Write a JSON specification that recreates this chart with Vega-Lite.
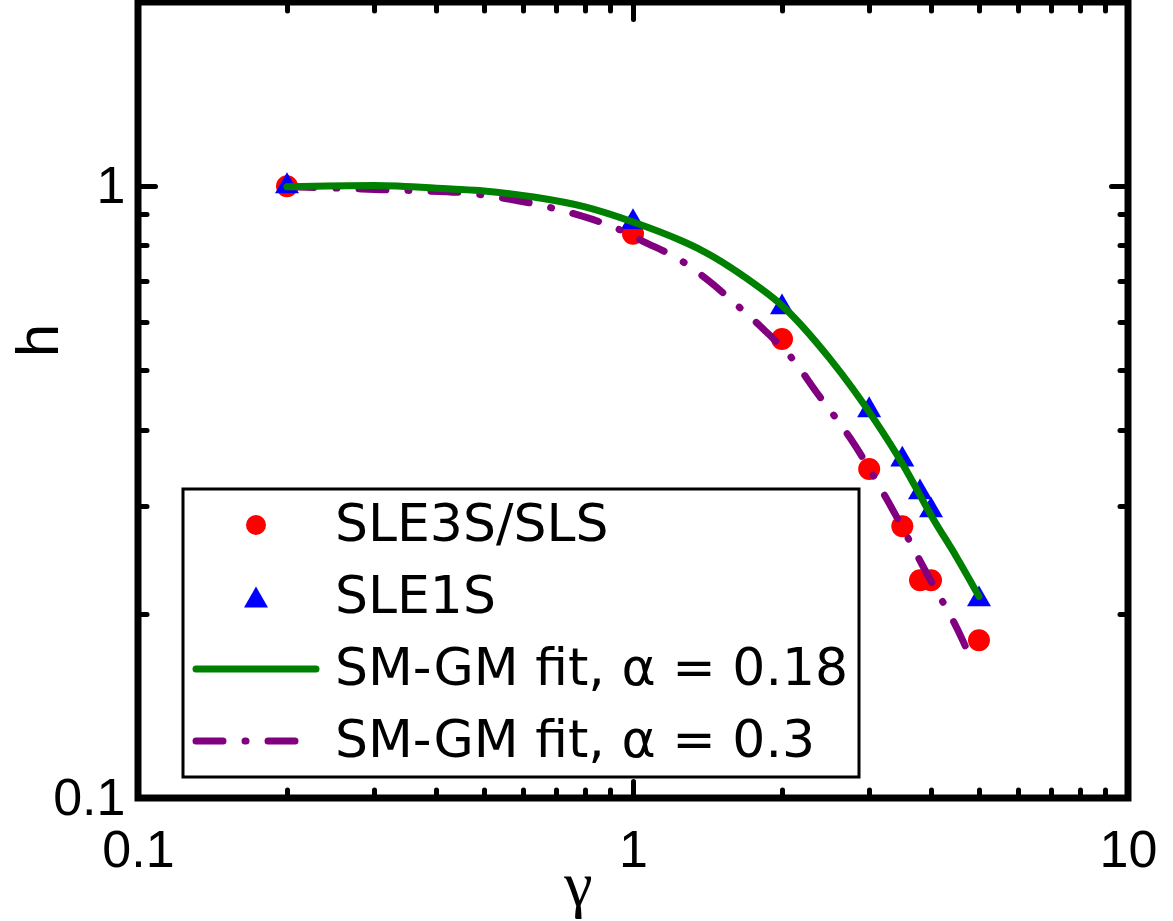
{
  "$schema": "https://vega.github.io/schema/vega-lite/v6.json",
  "width": 990,
  "height": 796,
  "autosize": {"type": "none"},
  "padding": {"left": 138, "top": 2, "right": 45, "bottom": 123},
  "background": "white",
  "config": {
    "view": {"stroke": "black", "strokeWidth": 7},
    "font": "Liberation Sans",
    "axis": {"grid": false, "domain": false}
  },
  "datasets": {
    "points": [
      {"series": "SLE3S/SLS", "gamma": 0.2, "h": 1.0},
      {"series": "SLE3S/SLS", "gamma": 1, "h": 0.836},
      {"series": "SLE3S/SLS", "gamma": 2, "h": 0.5625},
      {"series": "SLE3S/SLS", "gamma": 3, "h": 0.345},
      {"series": "SLE3S/SLS", "gamma": 3.5, "h": 0.278},
      {"series": "SLE3S/SLS", "gamma": 3.8, "h": 0.227},
      {"series": "SLE3S/SLS", "gamma": 4, "h": 0.227},
      {"series": "SLE3S/SLS", "gamma": 5, "h": 0.181},
      {"series": "SLE1S", "gamma": 0.2, "h": 1.013},
      {"series": "SLE1S", "gamma": 1, "h": 0.885},
      {"series": "SLE1S", "gamma": 2, "h": 0.642},
      {"series": "SLE1S", "gamma": 3, "h": 0.436},
      {"series": "SLE1S", "gamma": 3.5, "h": 0.362},
      {"series": "SLE1S", "gamma": 3.8, "h": 0.32},
      {"series": "SLE1S", "gamma": 4, "h": 0.299},
      {"series": "SLE1S", "gamma": 5, "h": 0.214}
    ],
    "fit018": [
      {"gamma": 0.2, "h": 0.998},
      {"gamma": 0.3, "h": 1.003},
      {"gamma": 0.43, "h": 0.989},
      {"gamma": 0.5, "h": 0.982},
      {"gamma": 0.63, "h": 0.96},
      {"gamma": 0.8, "h": 0.925},
      {"gamma": 1.0, "h": 0.874},
      {"gamma": 1.25, "h": 0.815},
      {"gamma": 1.37, "h": 0.787},
      {"gamma": 1.7, "h": 0.706},
      {"gamma": 2.0, "h": 0.638},
      {"gamma": 2.5, "h": 0.522},
      {"gamma": 3.1, "h": 0.411},
      {"gamma": 3.5, "h": 0.352},
      {"gamma": 4.05, "h": 0.285},
      {"gamma": 4.5, "h": 0.248},
      {"gamma": 5.0, "h": 0.2136}
    ],
    "fit03": [
      {"gamma": 0.2, "h": 0.998},
      {"gamma": 0.26, "h": 0.992},
      {"gamma": 0.31, "h": 0.987},
      {"gamma": 0.37, "h": 0.983},
      {"gamma": 0.47, "h": 0.973},
      {"gamma": 0.53, "h": 0.96},
      {"gamma": 0.63, "h": 0.936},
      {"gamma": 0.75, "h": 0.904},
      {"gamma": 0.93, "h": 0.852},
      {"gamma": 1.05, "h": 0.812},
      {"gamma": 1.25, "h": 0.756},
      {"gamma": 1.42, "h": 0.701},
      {"gamma": 1.64, "h": 0.634},
      {"gamma": 1.85, "h": 0.58},
      {"gamma": 2.1, "h": 0.522},
      {"gamma": 2.35, "h": 0.46},
      {"gamma": 2.58, "h": 0.416},
      {"gamma": 2.75, "h": 0.387},
      {"gamma": 3.3, "h": 0.302},
      {"gamma": 3.92, "h": 0.233},
      {"gamma": 4.65, "h": 0.18},
      {"gamma": 4.87, "h": 0.165}
    ]
  },
  "layer": [
    {
      "data": {"name": "points"},
      "mark": {"type": "point", "filled": true, "size": 484, "opacity": 1},
      "encoding": {
        "x": {
          "field": "gamma", "type": "quantitative",
          "scale": {"type": "log", "domain": [0.1, 10], "nice": false},
          "axis": {
            "orient": "top", "title": null, "labels": false,
            "values": [0.1, 0.2, 0.3, 0.4, 0.5, 0.6, 0.7, 0.8, 0.9, 1, 2, 3, 4, 5, 6, 7, 8, 9, 10],
            "tickSize": {"condition": {"test": "datum.value === 0.1 || datum.value === 1 || datum.value === 10", "value": -17}, "value": -8.5},
            "tickWidth": 5, "tickColor": "black", "tickCap": "round"
          }
        },
        "y": {
          "field": "h", "type": "quantitative",
          "scale": {"type": "log", "domain": [0.1, 2], "nice": false},
          "axis": {
            "orient": "right", "title": null, "labels": false,
            "values": [0.1, 0.2, 0.3, 0.4, 0.5, 0.6, 0.7, 0.8, 0.9, 1, 2],
            "tickSize": {"condition": {"test": "datum.value === 0.1 || datum.value === 1", "value": -17}, "value": -8.5},
            "tickWidth": 5, "tickColor": "black", "tickCap": "round"
          }
        },
        "color": {
          "field": "series", "type": "nominal",
          "scale": {
            "domain": ["SLE3S/SLS", "SLE1S", "SM-GM fit, α = 0.18", "SM-GM fit, α = 0.3"],
            "range": ["#ff0000", "#0000ff", "#008000", "#800080"]
          },
          "legend": {
            "title": null,
            "orient": "none",
            "legendX": 45,
            "legendY": 487,
            "padding": 10,
            "fillColor": "white",
            "strokeColor": "black",
            "labelFont": "DejaVu Sans",
            "labelFontSize": 52,
            "labelColor": "black",
            "labelLimit": 2000,
            "labelOffset": 53,
            "symbolOffset": 37,
            "symbolSize": 400,
            "symbolStrokeWidth": 7,
            "rowPadding": 20,
            "labelBaseline": "middle",
            "encoding": {
              "legend": {"strokeWidth": {"value": 3}},
              "symbols": {
                "shape": {"value": {"expr": "datum.value === 'SLE3S/SLS' ? 'circle' : datum.value === 'SLE1S' ? 'M0,-1.04L1.2,1.04L-1.2,1.04Z' : 'M-6,0L6,0'"}},
                "fill": {"value": {"expr": "datum.value === 'SLE3S/SLS' ? '#ff0000' : datum.value === 'SLE1S' ? '#0000ff' : 'transparent'"}},
                "stroke": {"value": {"expr": "datum.value === 'SM-GM fit, α = 0.18' ? '#008000' : datum.value === 'SM-GM fit, α = 0.3' ? '#800080' : 'transparent'"}},
                "strokeDash": {"value": {"expr": "datum.value === 'SM-GM fit, α = 0.3' ? [27, 22, 1, 22] : [1, 0]"}},
                "strokeCap": {"value": "round"},
                "strokeWidth": {"value": 7},
                "opacity": {"value": 1},
                "fillOpacity": {"value": 1},
                "strokeOpacity": {"value": 1}
              }
            }
          }
        },
        "shape": {
          "field": "series", "type": "nominal",
          "scale": {"domain": ["SLE3S/SLS", "SLE1S"], "range": ["circle", "M0,-0.945L1.09,0.945L-1.09,0.945Z"]},
          "legend": null
        }
      }
    },
    {
      "data": {"name": "fit03"},
      "mark": {"type": "line", "color": "#800080", "strokeWidth": 7, "strokeDash": [27, 22, 1, 22], "strokeCap": "round", "interpolate": "monotone"},
      "encoding": {
        "x": {
          "field": "gamma", "type": "quantitative",
          "axis": {
            "orient": "bottom",
            "values": [0.1, 0.2, 0.3, 0.4, 0.5, 0.6, 0.7, 0.8, 0.9, 1, 2, 3, 4, 5, 6, 7, 8, 9, 10],
            "labelExpr": "datum.value === 0.1 ? '0.1' : datum.value === 1 ? '1' : datum.value === 10 ? '10' : ''",
            "labelFont": "Liberation Sans", "labelFontSize": 52, "labelColor": "black",
            "labelPadding": 44, "labelOverlap": false, "labelFlush": false, "labelBound": false,
            "tickSize": {"condition": {"test": "datum.value === 0.1 || datum.value === 1 || datum.value === 10", "value": -17}, "value": -8.5},
            "tickWidth": 5, "tickColor": "black", "tickCap": "round",
            "title": "γ", "titleFont": "Liberation Serif", "titleFontSize": 64, "titleFontWeight": "normal", "titleColor": "black",
            "titleX": 440, "titleY": 106, "titleAlign": "center", "titleBaseline": "alphabetic"
          }
        },
        "y": {
          "field": "h", "type": "quantitative",
          "axis": {
            "orient": "left",
            "values": [0.1, 0.2, 0.3, 0.4, 0.5, 0.6, 0.7, 0.8, 0.9, 1, 2],
            "labelExpr": "datum.value === 0.1 ? '0.1' : datum.value === 1 ? '1' : ''",
            "labelFont": "Liberation Sans", "labelFontSize": 52, "labelColor": "black",
            "labelPadding": 30, "labelOverlap": false, "labelFlush": false, "labelBound": false,
            "labelBaseline": "middle", "labelAlign": "right",
            "tickSize": {"condition": {"test": "datum.value === 0.1 || datum.value === 1", "value": -17}, "value": -8.5},
            "tickWidth": 5, "tickColor": "black", "tickCap": "round",
            "title": "h", "titleFont": "Liberation Sans", "titleFontSize": 60, "titleFontWeight": "normal", "titleColor": "black",
            "titleX": -81, "titleY": 338, "titleAngle": 270, "titleAlign": "center", "titleBaseline": "alphabetic"
          }
        }
      }
    },
    {
      "data": {"name": "fit018"},
      "mark": {"type": "line", "color": "#008000", "strokeWidth": 7, "strokeCap": "round", "interpolate": "monotone"},
      "encoding": {
        "x": {"field": "gamma", "type": "quantitative", "axis": null},
        "y": {"field": "h", "type": "quantitative", "axis": null}
      }
    }
  ],
  "resolve": {"axis": {"x": "independent", "y": "independent"}}
}
